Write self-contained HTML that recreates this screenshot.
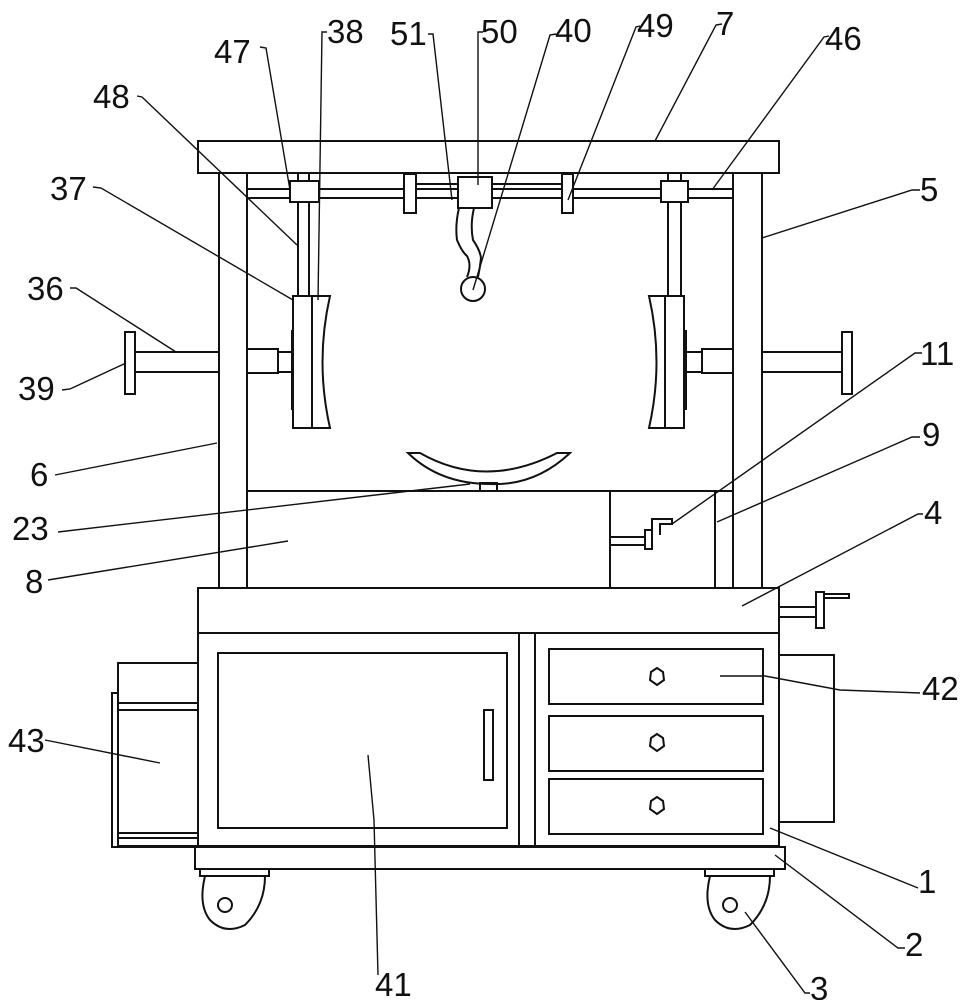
<!DOCTYPE html>
<html><head><meta charset="utf-8"><style>
html,body{margin:0;padding:0;background:#fff;width:973px;height:1000px;overflow:hidden}
svg{display:block}
text{font-family:"Liberation Sans",sans-serif;font-size:33px;fill:#111}
</style></head><body>
<svg width="973" height="1000" viewBox="0 0 973 1000" xmlns="http://www.w3.org/2000/svg">
<g fill="none" stroke="#111" stroke-width="2">
<rect x="198" y="141" width="581" height="32"/>
<rect x="219" y="173" width="28" height="415"/>
<rect x="733" y="173" width="29" height="415"/>
<line x1="247" y1="189" x2="733" y2="189"/>
<line x1="247" y1="198" x2="733" y2="198"/>
<line x1="416" y1="184" x2="562" y2="184"/>
<rect x="290" y="181" width="29" height="21" fill="#fff"/>
<rect x="661" y="181" width="27" height="21" fill="#fff"/>
<line x1="298" y1="173" x2="298" y2="181"/><line x1="309" y1="173" x2="309" y2="181"/>
<line x1="668" y1="173" x2="668" y2="181"/><line x1="681" y1="173" x2="681" y2="181"/>
<rect x="404" y="174" width="12" height="39" fill="#fff"/>
<rect x="562" y="174" width="11" height="39" fill="#fff"/>
<rect x="458" y="177" width="34" height="31" fill="#fff"/>
<path d="M459 208 Q455 225 457 240 Q462 252 467 256 Q472 265 467 277"/>
<path d="M474 208 Q470 225 473 240 Q480 250 481 258 Q480 268 478 277"/>
<circle cx="473" cy="289" r="12"/>
<rect x="298" y="202" width="11" height="94"/>
<rect x="668" y="202" width="13" height="94"/>
<rect x="293" y="296" width="19" height="132"/>
<path d="M312 296 L330 296 Q315 362 330 428 L312 428"/>
<rect x="665" y="296" width="19" height="132"/>
<path d="M665 296 L649 296 Q664 362 649 428 L665 428"/>
<rect x="125" y="332" width="10" height="62"/>
<line x1="135" y1="352" x2="219" y2="352"/><line x1="135" y1="372" x2="219" y2="372"/>
<rect x="247" y="349" width="31" height="24"/>
<line x1="278" y1="352" x2="293" y2="352"/><line x1="278" y1="372" x2="293" y2="372"/>
<line x1="292" y1="330" x2="292" y2="410"/>
<rect x="842" y="332" width="10" height="62"/>
<line x1="762" y1="352" x2="842" y2="352"/><line x1="762" y1="372" x2="842" y2="372"/>
<rect x="702" y="349" width="31" height="24"/>
<line x1="684" y1="352" x2="702" y2="352"/><line x1="684" y1="372" x2="702" y2="372"/>
<line x1="686" y1="330" x2="686" y2="410"/>
<path d="M408 453 L420 453 Q485 490 557 453 L570 453 Q535 486 490 484 Q440 484 408 453 Z"/>
<rect x="480" y="483" width="17" height="8"/>
<line x1="247" y1="491" x2="733" y2="491"/>
<line x1="610" y1="491" x2="610" y2="588"/>
<line x1="715" y1="491" x2="715" y2="588"/>
<path d="M610 537 L645 537 M610 545 L645 545"/>
<rect x="645" y="530" width="7" height="19"/>
<path d="M652 530 L652 519 L672 519 L672 524 L660 524 L660 535"/>
<rect x="198" y="588" width="581" height="45"/>
<line x1="780" y1="607" x2="816" y2="607"/><line x1="780" y1="617" x2="816" y2="617"/>
<rect x="816" y="592" width="8" height="36"/>
<rect x="824" y="594" width="25" height="4"/>
<rect x="198" y="633" width="581" height="213"/>
<line x1="519" y1="633" x2="519" y2="846"/><line x1="535" y1="633" x2="535" y2="846"/>
<rect x="218" y="653" width="289" height="175"/>
<rect x="484" y="710" width="9" height="70"/>
<rect x="549" y="649" width="214" height="55"/>
<rect x="549" y="716" width="214" height="55"/>
<rect x="549" y="779" width="214" height="55"/>
<path d="M657 668 L663 672 L664 680 L657 685 L650 680 L651 672 Z"/>
<path d="M657 734 L663 738 L664 746 L657 751 L650 746 L651 738 Z"/>
<path d="M657 797 L663 801 L664 809 L657 814 L650 809 L651 801 Z"/>
<rect x="779" y="655" width="55" height="167"/>
<rect x="118" y="663" width="80" height="183"/>
<line x1="118" y1="703" x2="198" y2="703"/><line x1="118" y1="710" x2="198" y2="710"/>
<line x1="118" y1="833" x2="198" y2="833"/><line x1="118" y1="838" x2="198" y2="838"/>
<path d="M118 693 L112 693 L112 847 L198 847"/>
<rect x="195" y="847" width="590" height="22"/>
<rect x="200" y="869" width="69" height="7"/>
<path d="M205 876 Q198 905 210 920 Q225 935 245 925 Q265 905 265 876"/>
<circle cx="225" cy="905" r="7"/>
<rect x="705" y="869" width="69" height="7"/>
<path d="M710 876 Q703 905 715 920 Q730 935 750 925 Q770 905 770 876"/>
<circle cx="730" cy="905" r="7"/>
</g>
<g fill="none" stroke="#111" stroke-width="1.4">
<path d="M260 47 L266 48 L290 190"/>
<path d="M327 32 L322 32 L318 300"/>
<path d="M428 34 L433 34 L452 200"/>
<path d="M483 32 L478 32 L478 185"/>
<path d="M556 34 L550 35 L473 290"/>
<path d="M640 26 L636 27 L568 200"/>
<path d="M722 24 L716 25 L655 141"/>
<path d="M829 36 L824 37 L712 190"/>
<path d="M137 96 L142 97 L297 245"/>
<path d="M93 187 L101 188 L293 300"/>
<path d="M70 288 L76 288 L176 352"/>
<path d="M62 390 L70 389 L126 363"/>
<path d="M55 475 L217 443"/>
<path d="M58 532 L470 484"/>
<path d="M48 580 L288 541"/>
<path d="M920 190 L912 190 L762 238"/>
<path d="M922 353 L915 353 L672 524"/>
<path d="M920 437 L912 437 L717 522"/>
<path d="M923 514 L918 514 L742 606"/>
<path d="M920 693 L840 690 L765 676 L720 676"/>
<path d="M45 740 L160 763"/>
<path d="M918 888 L770 828"/>
<path d="M905 948 L898 948 L775 855"/>
<path d="M810 993 L805 993 L745 912"/>
<path d="M378 975 L374 820 L368 755"/>
</g>
<g>
<text x="214" y="63">47</text>
<text x="327" y="43">38</text>
<text x="390" y="45">51</text>
<text x="481" y="43">50</text>
<text x="555" y="42">40</text>
<text x="637" y="37">49</text>
<text x="716" y="35">7</text>
<text x="825" y="50">46</text>
<text x="93" y="108">48</text>
<text x="50" y="200">37</text>
<text x="27" y="300">36</text>
<text x="18" y="400">39</text>
<text x="30" y="486">6</text>
<text x="12" y="540">23</text>
<text x="25" y="593">8</text>
<text x="8" y="752">43</text>
<text x="920" y="201">5</text>
<text x="920" y="365">11</text>
<text x="922" y="446">9</text>
<text x="924" y="524">4</text>
<text x="922" y="700">42</text>
<text x="918" y="893">1</text>
<text x="905" y="956">2</text>
<text x="810" y="1000">3</text>
<text x="375" y="996">41</text>
</g>
</svg>
</body></html>
